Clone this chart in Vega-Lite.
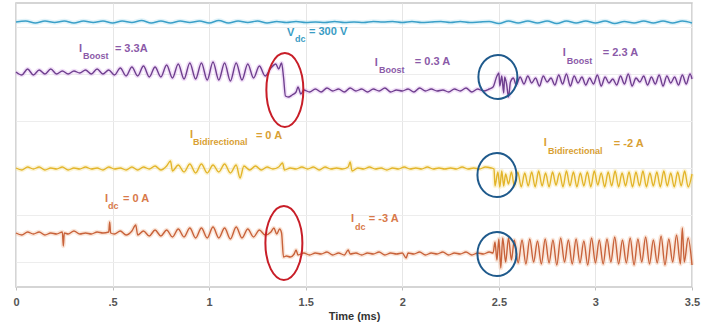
{
"$schema":"https://vega.github.io/schema/vega-lite/v6.json",
"width":676,"height":284,
"autosize":{"type":"none"},
"padding":{"left":16,"top":3,"right":18,"bottom":37},
"background":"white",
"config":{"view":{"stroke":"#c8c8c8","strokeWidth":1.5},"font":"Liberation Sans"},
"datasets":{
"traces":[
{"s":"V","t":0,"v":240},{"s":"V","t":0.05,"v":241},{"s":"V","t":0.1,"v":239},{"s":"V","t":0.15,"v":241},{"s":"V","t":0.2,"v":239.5},{"s":"V","t":0.25,"v":241},{"s":"V","t":0.3,"v":239},{"s":"V","t":0.35,"v":241},{"s":"V","t":0.4,"v":239.5},{"s":"V","t":0.45,"v":241},{"s":"V","t":0.5,"v":239},{"s":"V","t":0.55,"v":241},{"s":"V","t":0.6,"v":239.5},{"s":"V","t":0.65,"v":241.5},{"s":"V","t":0.7,"v":239},{"s":"V","t":0.75,"v":241},{"s":"V","t":0.8,"v":239},{"s":"V","t":0.85,"v":241},{"s":"V","t":0.9,"v":239.5},{"s":"V","t":0.95,"v":241},{"s":"V","t":1.0,"v":239},{"s":"V","t":1.05,"v":241.5},{"s":"V","t":1.1,"v":239},{"s":"V","t":1.15,"v":241},{"s":"V","t":1.2,"v":239.5},{"s":"V","t":1.25,"v":241},{"s":"V","t":1.3,"v":239},{"s":"V","t":1.35,"v":240.5},{"s":"V","t":1.4,"v":239.5},{"s":"V","t":1.45,"v":240.5},{"s":"V","t":1.5,"v":239.5},{"s":"V","t":1.55,"v":240},{"s":"V","t":1.6,"v":239.5},{"s":"V","t":1.65,"v":240.5},{"s":"V","t":1.7,"v":239.5},{"s":"V","t":1.75,"v":240},{"s":"V","t":1.8,"v":239.5},{"s":"V","t":1.85,"v":240.5},{"s":"V","t":1.9,"v":240},{"s":"V","t":1.95,"v":240.5},{"s":"V","t":2.0,"v":239.5},{"s":"V","t":2.05,"v":240.5},{"s":"V","t":2.1,"v":239.5},{"s":"V","t":2.15,"v":240},{"s":"V","t":2.2,"v":240.5},{"s":"V","t":2.25,"v":239.5},{"s":"V","t":2.3,"v":240.5},{"s":"V","t":2.35,"v":239.5},{"s":"V","t":2.4,"v":240},{"s":"V","t":2.45,"v":240.5},{"s":"V","t":2.5,"v":238.5},{"s":"V","t":2.55,"v":241},{"s":"V","t":2.6,"v":239},{"s":"V","t":2.65,"v":241},{"s":"V","t":2.7,"v":239},{"s":"V","t":2.75,"v":241},{"s":"V","t":2.8,"v":238.5},{"s":"V","t":2.85,"v":241},{"s":"V","t":2.9,"v":239},{"s":"V","t":2.95,"v":241},{"s":"V","t":3.0,"v":239},{"s":"V","t":3.05,"v":241},{"s":"V","t":3.1,"v":238.5},{"s":"V","t":3.15,"v":240.5},{"s":"V","t":3.2,"v":239},{"s":"V","t":3.25,"v":241},{"s":"V","t":3.3,"v":239},{"s":"V","t":3.35,"v":241},{"s":"V","t":3.4,"v":239},{"s":"V","t":3.45,"v":241},{"s":"V","t":3.5,"v":239},

{"s":"B","t":0,"v":190},{"s":"B","t":0.03,"v":187},{"s":"B","t":0.06,"v":193},{"s":"B","t":0.09,"v":187},{"s":"B","t":0.12,"v":192},{"s":"B","t":0.15,"v":188},{"s":"B","t":0.18,"v":193},{"s":"B","t":0.21,"v":188},{"s":"B","t":0.24,"v":191},{"s":"B","t":0.27,"v":188},{"s":"B","t":0.3,"v":191},{"s":"B","t":0.33,"v":189},{"s":"B","t":0.36,"v":192},{"s":"B","t":0.39,"v":188},{"s":"B","t":0.42,"v":193},{"s":"B","t":0.45,"v":188},{"s":"B","t":0.48,"v":192},{"s":"B","t":0.51,"v":187},{"s":"B","t":0.54,"v":194},{"s":"B","t":0.57,"v":186},{"s":"B","t":0.6,"v":195},{"s":"B","t":0.63,"v":186},{"s":"B","t":0.66,"v":196},{"s":"B","t":0.69,"v":185},{"s":"B","t":0.72,"v":195},{"s":"B","t":0.75,"v":185},{"s":"B","t":0.78,"v":197},{"s":"B","t":0.81,"v":184},{"s":"B","t":0.84,"v":198},{"s":"B","t":0.87,"v":183},{"s":"B","t":0.9,"v":199},{"s":"B","t":0.93,"v":183},{"s":"B","t":0.96,"v":199},{"s":"B","t":0.99,"v":182},{"s":"B","t":1.02,"v":200},{"s":"B","t":1.05,"v":182},{"s":"B","t":1.08,"v":199},{"s":"B","t":1.11,"v":181},{"s":"B","t":1.14,"v":199},{"s":"B","t":1.17,"v":182},{"s":"B","t":1.2,"v":198},{"s":"B","t":1.23,"v":184},{"s":"B","t":1.26,"v":196},{"s":"B","t":1.29,"v":186},{"s":"B","t":1.32,"v":194},{"s":"B","t":1.345,"v":198},{"s":"B","t":1.36,"v":193},{"s":"B","t":1.375,"v":199},{"s":"B","t":1.385,"v":185},{"s":"B","t":1.395,"v":166},{"s":"B","t":1.41,"v":165},{"s":"B","t":1.43,"v":167},{"s":"B","t":1.45,"v":170},{"s":"B","t":1.46,"v":175},{"s":"B","t":1.475,"v":168},{"s":"B","t":1.49,"v":172},{"s":"B","t":1.52,"v":170},{"s":"B","t":1.55,"v":173},{"s":"B","t":1.58,"v":170},{"s":"B","t":1.61,"v":174},{"s":"B","t":1.64,"v":171},{"s":"B","t":1.67,"v":173},{"s":"B","t":1.7,"v":170},{"s":"B","t":1.73,"v":174},{"s":"B","t":1.76,"v":171},{"s":"B","t":1.79,"v":173},{"s":"B","t":1.82,"v":170},{"s":"B","t":1.85,"v":173},{"s":"B","t":1.88,"v":171},{"s":"B","t":1.91,"v":174},{"s":"B","t":1.94,"v":170},{"s":"B","t":1.97,"v":172},{"s":"B","t":2.0,"v":171},{"s":"B","t":2.03,"v":173},{"s":"B","t":2.06,"v":170},{"s":"B","t":2.09,"v":174},{"s":"B","t":2.12,"v":171},{"s":"B","t":2.15,"v":173},{"s":"B","t":2.18,"v":171},{"s":"B","t":2.21,"v":172},{"s":"B","t":2.24,"v":170},{"s":"B","t":2.27,"v":173},{"s":"B","t":2.3,"v":171},{"s":"B","t":2.33,"v":174},{"s":"B","t":2.36,"v":170},{"s":"B","t":2.39,"v":173},{"s":"B","t":2.42,"v":171},{"s":"B","t":2.45,"v":173},{"s":"B","t":2.47,"v":175},{"s":"B","t":2.49,"v":186},{"s":"B","t":2.5,"v":189},{"s":"B","t":2.505,"v":176},{"s":"B","t":2.515,"v":186},{"s":"B","t":2.525,"v":169},{"s":"B","t":2.53,"v":185},{"s":"B","t":2.54,"v":178},{"s":"B","t":2.55,"v":165},{"s":"B","t":2.56,"v":180},{"s":"B","t":2.575,"v":184},{"s":"B","t":2.59,"v":177},{"s":"B","t":2.61,"v":185},{"s":"B","t":2.63,"v":178},{"s":"B","t":2.65,"v":186},{"s":"B","t":2.67,"v":179},{"s":"B","t":2.69,"v":184},{"s":"B","t":2.71,"v":176},{"s":"B","t":2.73,"v":186},{"s":"B","t":2.75,"v":180},{"s":"B","t":2.77,"v":184},{"s":"B","t":2.79,"v":177},{"s":"B","t":2.81,"v":187},{"s":"B","t":2.83,"v":178},{"s":"B","t":2.85,"v":188},{"s":"B","t":2.87,"v":176},{"s":"B","t":2.89,"v":186},{"s":"B","t":2.91,"v":179},{"s":"B","t":2.93,"v":185},{"s":"B","t":2.95,"v":177},{"s":"B","t":2.97,"v":184},{"s":"B","t":2.99,"v":178},{"s":"B","t":3.01,"v":187},{"s":"B","t":3.03,"v":176},{"s":"B","t":3.05,"v":185},{"s":"B","t":3.07,"v":179},{"s":"B","t":3.09,"v":183},{"s":"B","t":3.11,"v":177},{"s":"B","t":3.13,"v":186},{"s":"B","t":3.15,"v":178},{"s":"B","t":3.17,"v":188},{"s":"B","t":3.19,"v":176},{"s":"B","t":3.21,"v":184},{"s":"B","t":3.23,"v":180},{"s":"B","t":3.25,"v":186},{"s":"B","t":3.27,"v":177},{"s":"B","t":3.29,"v":185},{"s":"B","t":3.31,"v":178},{"s":"B","t":3.33,"v":187},{"s":"B","t":3.35,"v":176},{"s":"B","t":3.37,"v":186},{"s":"B","t":3.39,"v":179},{"s":"B","t":3.41,"v":185},{"s":"B","t":3.43,"v":177},{"s":"B","t":3.45,"v":187},{"s":"B","t":3.47,"v":178},{"s":"B","t":3.49,"v":188},{"s":"B","t":3.5,"v":183},

{"s":"Bi","t":0,"v":94},{"s":"Bi","t":0.03,"v":92},{"s":"Bi","t":0.06,"v":95},{"s":"Bi","t":0.09,"v":93},{"s":"Bi","t":0.12,"v":95},{"s":"Bi","t":0.15,"v":92},{"s":"Bi","t":0.18,"v":94},{"s":"Bi","t":0.21,"v":93},{"s":"Bi","t":0.24,"v":95},{"s":"Bi","t":0.27,"v":92},{"s":"Bi","t":0.3,"v":94},{"s":"Bi","t":0.33,"v":93},{"s":"Bi","t":0.36,"v":95},{"s":"Bi","t":0.39,"v":93},{"s":"Bi","t":0.42,"v":94},{"s":"Bi","t":0.45,"v":92},{"s":"Bi","t":0.48,"v":95},{"s":"Bi","t":0.51,"v":93},{"s":"Bi","t":0.54,"v":94},{"s":"Bi","t":0.57,"v":92},{"s":"Bi","t":0.6,"v":95},{"s":"Bi","t":0.63,"v":92},{"s":"Bi","t":0.66,"v":95},{"s":"Bi","t":0.69,"v":93},{"s":"Bi","t":0.72,"v":96},{"s":"Bi","t":0.75,"v":92},{"s":"Bi","t":0.78,"v":96},{"s":"Bi","t":0.8,"v":101},{"s":"Bi","t":0.81,"v":91},{"s":"Bi","t":0.84,"v":97},{"s":"Bi","t":0.87,"v":90},{"s":"Bi","t":0.9,"v":98},{"s":"Bi","t":0.93,"v":89},{"s":"Bi","t":0.96,"v":98},{"s":"Bi","t":0.99,"v":89},{"s":"Bi","t":1.02,"v":97},{"s":"Bi","t":1.05,"v":90},{"s":"Bi","t":1.08,"v":98},{"s":"Bi","t":1.11,"v":89},{"s":"Bi","t":1.14,"v":97},{"s":"Bi","t":1.16,"v":84},{"s":"Bi","t":1.18,"v":96},{"s":"Bi","t":1.21,"v":92},{"s":"Bi","t":1.24,"v":96},{"s":"Bi","t":1.27,"v":92},{"s":"Bi","t":1.3,"v":95},{"s":"Bi","t":1.33,"v":93},{"s":"Bi","t":1.36,"v":95},{"s":"Bi","t":1.38,"v":99},{"s":"Bi","t":1.39,"v":92},{"s":"Bi","t":1.42,"v":94},{"s":"Bi","t":1.45,"v":93},{"s":"Bi","t":1.48,"v":95},{"s":"Bi","t":1.51,"v":93},{"s":"Bi","t":1.54,"v":95},{"s":"Bi","t":1.57,"v":92},{"s":"Bi","t":1.6,"v":95},{"s":"Bi","t":1.63,"v":93},{"s":"Bi","t":1.66,"v":94},{"s":"Bi","t":1.69,"v":93},{"s":"Bi","t":1.72,"v":95},{"s":"Bi","t":1.73,"v":100},{"s":"Bi","t":1.74,"v":91},{"s":"Bi","t":1.77,"v":94},{"s":"Bi","t":1.8,"v":93},{"s":"Bi","t":1.83,"v":95},{"s":"Bi","t":1.86,"v":93},{"s":"Bi","t":1.89,"v":94},{"s":"Bi","t":1.92,"v":92},{"s":"Bi","t":1.95,"v":94},{"s":"Bi","t":1.98,"v":93},{"s":"Bi","t":2.01,"v":95},{"s":"Bi","t":2.04,"v":93},{"s":"Bi","t":2.07,"v":94},{"s":"Bi","t":2.1,"v":93},{"s":"Bi","t":2.13,"v":95},{"s":"Bi","t":2.16,"v":93},{"s":"Bi","t":2.19,"v":94},{"s":"Bi","t":2.22,"v":93},{"s":"Bi","t":2.25,"v":94},{"s":"Bi","t":2.28,"v":93},{"s":"Bi","t":2.31,"v":95},{"s":"Bi","t":2.34,"v":93},{"s":"Bi","t":2.37,"v":94},{"s":"Bi","t":2.4,"v":93},{"s":"Bi","t":2.43,"v":95},{"s":"Bi","t":2.46,"v":94},{"s":"Bi","t":2.475,"v":93},{"s":"Bi","t":2.48,"v":76},{"s":"Bi","t":2.495,"v":90},{"s":"Bi","t":2.505,"v":75},{"s":"Bi","t":2.515,"v":91},{"s":"Bi","t":2.525,"v":76},{"s":"Bi","t":2.535,"v":88},{"s":"Bi","t":2.55,"v":78},{"s":"Bi","t":2.565,"v":90},{"s":"Bi","t":2.58,"v":76},{"s":"Bi","t":2.598,"v":90},{"s":"Bi","t":2.616,"v":75},{"s":"Bi","t":2.634,"v":89},{"s":"Bi","t":2.652,"v":76},{"s":"Bi","t":2.67,"v":90},{"s":"Bi","t":2.688,"v":75},{"s":"Bi","t":2.706,"v":91},{"s":"Bi","t":2.724,"v":76},{"s":"Bi","t":2.742,"v":89},{"s":"Bi","t":2.76,"v":75},{"s":"Bi","t":2.778,"v":90},{"s":"Bi","t":2.796,"v":77},{"s":"Bi","t":2.814,"v":89},{"s":"Bi","t":2.832,"v":75},{"s":"Bi","t":2.85,"v":91},{"s":"Bi","t":2.868,"v":76},{"s":"Bi","t":2.886,"v":90},{"s":"Bi","t":2.904,"v":75},{"s":"Bi","t":2.922,"v":89},{"s":"Bi","t":2.94,"v":76},{"s":"Bi","t":2.958,"v":90},{"s":"Bi","t":2.976,"v":75},{"s":"Bi","t":2.994,"v":91},{"s":"Bi","t":3.012,"v":77},{"s":"Bi","t":3.03,"v":89},{"s":"Bi","t":3.048,"v":75},{"s":"Bi","t":3.066,"v":90},{"s":"Bi","t":3.084,"v":76},{"s":"Bi","t":3.102,"v":91},{"s":"Bi","t":3.12,"v":75},{"s":"Bi","t":3.138,"v":89},{"s":"Bi","t":3.156,"v":76},{"s":"Bi","t":3.174,"v":90},{"s":"Bi","t":3.192,"v":75},{"s":"Bi","t":3.21,"v":90},{"s":"Bi","t":3.228,"v":76},{"s":"Bi","t":3.246,"v":91},{"s":"Bi","t":3.264,"v":75},{"s":"Bi","t":3.282,"v":89},{"s":"Bi","t":3.3,"v":76},{"s":"Bi","t":3.318,"v":90},{"s":"Bi","t":3.336,"v":75},{"s":"Bi","t":3.354,"v":91},{"s":"Bi","t":3.372,"v":76},{"s":"Bi","t":3.39,"v":89},{"s":"Bi","t":3.408,"v":75},{"s":"Bi","t":3.426,"v":90},{"s":"Bi","t":3.444,"v":76},{"s":"Bi","t":3.462,"v":91},{"s":"Bi","t":3.48,"v":75},{"s":"Bi","t":3.5,"v":88},

{"s":"I","t":0,"v":29},{"s":"I","t":0.03,"v":27},{"s":"I","t":0.06,"v":30},{"s":"I","t":0.09,"v":28},{"s":"I","t":0.12,"v":30},{"s":"I","t":0.15,"v":27},{"s":"I","t":0.18,"v":29},{"s":"I","t":0.21,"v":28},{"s":"I","t":0.24,"v":30},{"s":"I","t":0.245,"v":16},{"s":"I","t":0.25,"v":29},{"s":"I","t":0.27,"v":28},{"s":"I","t":0.3,"v":31},{"s":"I","t":0.33,"v":28},{"s":"I","t":0.36,"v":29},{"s":"I","t":0.39,"v":28},{"s":"I","t":0.42,"v":30},{"s":"I","t":0.45,"v":29},{"s":"I","t":0.48,"v":30},{"s":"I","t":0.485,"v":40},{"s":"I","t":0.49,"v":29},{"s":"I","t":0.51,"v":28},{"s":"I","t":0.54,"v":31},{"s":"I","t":0.57,"v":27},{"s":"I","t":0.6,"v":31},{"s":"I","t":0.62,"v":37},{"s":"I","t":0.63,"v":27},{"s":"I","t":0.66,"v":31},{"s":"I","t":0.69,"v":26},{"s":"I","t":0.72,"v":32},{"s":"I","t":0.75,"v":26},{"s":"I","t":0.78,"v":32},{"s":"I","t":0.81,"v":25},{"s":"I","t":0.84,"v":33},{"s":"I","t":0.87,"v":25},{"s":"I","t":0.9,"v":34},{"s":"I","t":0.93,"v":24},{"s":"I","t":0.96,"v":34},{"s":"I","t":0.99,"v":24},{"s":"I","t":1.02,"v":35},{"s":"I","t":1.05,"v":24},{"s":"I","t":1.08,"v":34},{"s":"I","t":1.11,"v":23},{"s":"I","t":1.14,"v":35},{"s":"I","t":1.17,"v":24},{"s":"I","t":1.2,"v":33},{"s":"I","t":1.23,"v":25},{"s":"I","t":1.26,"v":32},{"s":"I","t":1.29,"v":27},{"s":"I","t":1.32,"v":30},{"s":"I","t":1.335,"v":34},{"s":"I","t":1.35,"v":28},{"s":"I","t":1.365,"v":33},{"s":"I","t":1.375,"v":29},{"s":"I","t":1.385,"v":5},{"s":"I","t":1.4,"v":6},{"s":"I","t":1.42,"v":5},{"s":"I","t":1.44,"v":8},{"s":"I","t":1.45,"v":12},{"s":"I","t":1.46,"v":7},{"s":"I","t":1.49,"v":9},{"s":"I","t":1.52,"v":7},{"s":"I","t":1.55,"v":9},{"s":"I","t":1.58,"v":8},{"s":"I","t":1.61,"v":10},{"s":"I","t":1.64,"v":7},{"s":"I","t":1.67,"v":9},{"s":"I","t":1.7,"v":7},{"s":"I","t":1.72,"v":12},{"s":"I","t":1.73,"v":8},{"s":"I","t":1.76,"v":9},{"s":"I","t":1.79,"v":7},{"s":"I","t":1.82,"v":9},{"s":"I","t":1.85,"v":8},{"s":"I","t":1.88,"v":10},{"s":"I","t":1.91,"v":7},{"s":"I","t":1.94,"v":9},{"s":"I","t":1.97,"v":8},{"s":"I","t":2.0,"v":9},{"s":"I","t":2.02,"v":4},{"s":"I","t":2.03,"v":9},{"s":"I","t":2.06,"v":8},{"s":"I","t":2.09,"v":10},{"s":"I","t":2.12,"v":7},{"s":"I","t":2.15,"v":9},{"s":"I","t":2.18,"v":8},{"s":"I","t":2.21,"v":10},{"s":"I","t":2.24,"v":7},{"s":"I","t":2.27,"v":9},{"s":"I","t":2.3,"v":8},{"s":"I","t":2.33,"v":10},{"s":"I","t":2.36,"v":7},{"s":"I","t":2.39,"v":9},{"s":"I","t":2.42,"v":8},{"s":"I","t":2.45,"v":10},{"s":"I","t":2.47,"v":9},{"s":"I","t":2.48,"v":20},{"s":"I","t":2.49,"v":2},{"s":"I","t":2.5,"v":23},{"s":"I","t":2.51,"v":-6},{"s":"I","t":2.52,"v":24},{"s":"I","t":2.535,"v":0},{"s":"I","t":2.55,"v":24},{"s":"I","t":2.565,"v":2},{"s":"I","t":2.58,"v":22},{"s":"I","t":2.6,"v":-1},{"s":"I","t":2.62,"v":22},{"s":"I","t":2.64,"v":-2},{"s":"I","t":2.66,"v":23},{"s":"I","t":2.68,"v":0},{"s":"I","t":2.7,"v":21},{"s":"I","t":2.72,"v":-2},{"s":"I","t":2.74,"v":23},{"s":"I","t":2.76,"v":-1},{"s":"I","t":2.78,"v":22},{"s":"I","t":2.8,"v":-3},{"s":"I","t":2.82,"v":24},{"s":"I","t":2.84,"v":0},{"s":"I","t":2.86,"v":22},{"s":"I","t":2.88,"v":-2},{"s":"I","t":2.9,"v":23},{"s":"I","t":2.92,"v":-1},{"s":"I","t":2.94,"v":21},{"s":"I","t":2.96,"v":-3},{"s":"I","t":2.98,"v":24},{"s":"I","t":3.0,"v":-1},{"s":"I","t":3.02,"v":22},{"s":"I","t":3.04,"v":-2},{"s":"I","t":3.06,"v":23},{"s":"I","t":3.08,"v":0},{"s":"I","t":3.1,"v":25},{"s":"I","t":3.12,"v":-2},{"s":"I","t":3.14,"v":22},{"s":"I","t":3.16,"v":-1},{"s":"I","t":3.18,"v":24},{"s":"I","t":3.2,"v":-3},{"s":"I","t":3.22,"v":23},{"s":"I","t":3.24,"v":0},{"s":"I","t":3.26,"v":25},{"s":"I","t":3.28,"v":-2},{"s":"I","t":3.3,"v":22},{"s":"I","t":3.32,"v":-1},{"s":"I","t":3.34,"v":26},{"s":"I","t":3.36,"v":-3},{"s":"I","t":3.38,"v":23},{"s":"I","t":3.4,"v":0},{"s":"I","t":3.42,"v":27},{"s":"I","t":3.44,"v":-2},{"s":"I","t":3.45,"v":34},{"s":"I","t":3.46,"v":0},{"s":"I","t":3.48,"v":24},{"s":"I","t":3.5,"v":-3}
],
"rings":[
{"k":"r","t":1.392,"v":172},{"k":"r","t":1.387,"v":19},
{"k":"b","t":2.495,"v":185},{"k":"b","t":2.49,"v":87},{"k":"b","t":2.49,"v":8}
],
"labels":[
{"g":"B","p":"m","t":0.326,"v":213,"txt":"I"},{"g":"B","p":"s","t":0.347,"v":206,"txt":"Boost"},{"g":"B","p":"r","t":0.512,"v":213,"txt":"= 3.3A"},
{"g":"V","p":"m","t":1.403,"v":229,"txt":"V"},{"g":"V","p":"s","t":1.444,"v":223,"txt":"dc"},{"g":"V","p":"r","t":1.517,"v":230,"txt":"= 300 V"},
{"g":"B","p":"m","t":1.858,"v":199,"txt":"I"},{"g":"B","p":"s","t":1.879,"v":192,"txt":"Boost"},{"g":"B","p":"r","t":2.065,"v":200,"txt":"= 0.3 A"},
{"g":"B","p":"m","t":2.831,"v":209,"txt":"I"},{"g":"B","p":"s","t":2.852,"v":201,"txt":"Boost"},{"g":"B","p":"r","t":3.038,"v":209,"txt":"= 2.3 A"},
{"g":"Bi","p":"m","t":0.901,"v":127,"txt":"I"},{"g":"Bi","p":"s","t":0.916,"v":120,"txt":"Bidirectional"},{"g":"Bi","p":"r","t":1.242,"v":126,"txt":"= 0 A"},
{"g":"Bi","p":"m","t":2.733,"v":119,"txt":"I"},{"g":"Bi","p":"s","t":2.754,"v":111,"txt":"Bidirectional"},{"g":"Bi","p":"r","t":3.095,"v":118,"txt":"= -2 A"},
{"g":"I","p":"m","t":0.461,"v":63,"txt":"I"},{"g":"I","p":"s","t":0.476,"v":56,"txt":"dc"},{"g":"I","p":"r","t":0.554,"v":63,"txt":"= 0 A"},
{"g":"I","p":"m","t":1.734,"v":43,"txt":"I"},{"g":"I","p":"s","t":1.755,"v":35,"txt":"dc"},{"g":"I","p":"r","t":1.827,"v":43,"txt":"= -3 A"}
]
},
"encoding":{
"x":{"field":"t","type":"quantitative","scale":{"domain":[0,3.5],"nice":false,"zero":false},
"axis":{"values":[0,0.5,1,1.5,2,2.5,3,3.5],"labelExpr":"datum.value == 0.5 ? '.5' : format(datum.value, '~g')","title":"Time (ms)","titleFontSize":11,"titleFontWeight":"bold","titleColor":"#333333","titlePadding":3,"labelFontSize":11,"labelFontWeight":"bold","labelColor":"#555555","labelPadding":6,"tickSize":3,"tickColor":"#c0c0c0","domain":false,"grid":true,"gridColor":"#e6e6e6","labelFlush":false}},
"y":{"field":"v","type":"quantitative","scale":{"domain":[-25,259],"nice":false,"zero":false},
"axis":{"values":[0,47,94,141,188,235],"labels":false,"ticks":false,"domain":false,"grid":true,"gridColor":"#ededed","title":null}}
},
"layer":[
{"data":{"name":"traces"},"mark":{"type":"line","strokeWidth":4.5,"opacity":0.35,"interpolate":"monotone"},
 "encoding":{"detail":{"field":"s"},"color":{"field":"s","type":"nominal","legend":null,"scale":{"domain":["V","B","Bi","I"],"range":["#a8dcef","#d9a8ea","#f5e08a","#f2b894"]}}}},
{"data":{"name":"traces"},"mark":{"type":"line","strokeWidth":1.4,"interpolate":"monotone"},
 "encoding":{"detail":{"field":"s"},"color":{"field":"s","type":"nominal","legend":null,"scale":{"domain":["V","B","Bi","I"],"range":["#3a9fc8","#6f3f8f","#e3b52a","#c8623a"]}}}},
{"data":{"name":"rings"},"transform":[{"filter":"datum.k == 'r'"}],
 "mark":{"type":"point","filled":false,"stroke":"#c81e28","strokeWidth":2,"opacity":1,"size":5476,
 "shape":"M 0 -1 C 0.276 -1 0.5 -0.552 0.5 0 C 0.5 0.552 0.276 1 0 1 C -0.276 1 -0.5 0.552 -0.5 0 C -0.5 -0.552 -0.276 -1 0 -1 Z"}},
{"data":{"name":"rings"},"transform":[{"filter":"datum.k == 'b'"}],
 "mark":{"type":"point","filled":false,"stroke":"#1f5a8c","strokeWidth":2,"opacity":1,"size":1936,
 "shape":"M 0 -1 C 0.489 -1 0.886 -0.552 0.886 0 C 0.886 0.552 0.489 1 0 1 C -0.489 1 -0.886 0.552 -0.886 0 C -0.886 -0.552 -0.489 -1 0 -1 Z"}},
{"data":{"name":"labels"},"transform":[{"filter":"datum.p != 's'"}],
 "mark":{"type":"text","align":"left","baseline":"middle","fontSize":11,"fontWeight":"bold"},
 "encoding":{"text":{"field":"txt"},"color":{"field":"g","type":"nominal","legend":null,"scale":{"domain":["V","B","Bi","I"],"range":["#3a9cc4","#8b5aa8","#d9a033","#d8794a"]}}}},
{"data":{"name":"labels"},"transform":[{"filter":"datum.p == 's'"}],
 "mark":{"type":"text","align":"left","baseline":"middle","fontSize":9,"fontWeight":"bold"},
 "encoding":{"text":{"field":"txt"},"color":{"field":"g","type":"nominal","legend":null,"scale":{"domain":["V","B","Bi","I"],"range":["#3a9cc4","#8b5aa8","#d9a033","#d8794a"]}}}}
],
"resolve":{"scale":{"color":"independent"}}
}
